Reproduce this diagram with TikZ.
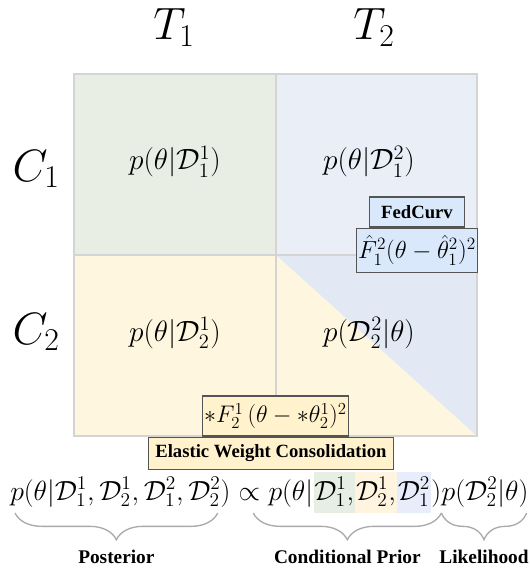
\RequirePackage{fix-cm}
\documentclass[tikz,border=0pt]{standalone}
\usepackage{amsmath,amssymb}
\usepackage{fontspec}
\newfontfamily\labelfont{Liberation Serif}
\usepackage{tikz}
\usetikzlibrary{positioning,calc,decorations.pathreplacing}
\usepackage{xcolor}
\definecolor{cellgreen}{RGB}{232,238,227}
\definecolor{cellblue}{RGB}{233,238,247}
\definecolor{triblue}{RGB}{227,233,244}
\definecolor{cellyellow}{RGB}{254,246,223}
\definecolor{gridgray}{RGB}{212,212,212}
\definecolor{fedblue}{RGB}{218,232,252}
\definecolor{ewcyellow}{RGB}{255,242,204}
\definecolor{boxgray}{RGB}{85,85,85}
\definecolor{bracegray}{RGB}{170,170,170}
\definecolor{hlgreen}{RGB}{231,239,228}
\definecolor{hlyellow}{RGB}{254,244,224}
\definecolor{hlblue}{RGB}{231,237,250}
\tikzset{
    bigmath/.style={inner sep=0, anchor=base, font=\fontsize{34}{40}\selectfont},
    cellmath/.style={inner sep=0, anchor=base, font=\fontsize{22}{26}\selectfont},
    eqmath/.style={inner sep=0, anchor=base west, font=\fontsize{20.8}{25}\selectfont},
    hl/.style={inner xsep=0.5pt, inner ysep=0, text height=21pt, text depth=9.75pt},
    gridline/.style={draw=gridgray, line width=1.1pt},
    labelbox/.style={draw=boxgray, line width=0.9pt, inner ysep=0, font=\labelfont\bfseries\fontsize{14}{16}\selectfont},
    termbox/.style={draw=boxgray, line width=0.9pt, inner xsep=1pt, inner ysep=0, font=\fontsize{18.5}{22}\selectfont},
    braceline/.style={draw=bracegray, line width=1pt, decorate, decoration={brace, mirror, amplitude=20pt}},
    bracelabel/.style={inner sep=0, font=\labelfont\bfseries\fontsize{14.5}{17}\selectfont},
}
\begin{document}
\begin{tikzpicture}[x=0.75pt, y=-0.75pt]
    \useasboundingbox (0,0) rectangle (530,570);
    % Cells
    \fill[cellgreen] (74,74) rectangle (276,255);
    \fill[cellblue] (276,74) rectangle (477,255);
    \fill[cellyellow] (74,255) rectangle (276,436);
    \fill[cellyellow] (276,255) -- (477,436) -- (276,436) -- cycle;
    \fill[triblue] (276,255) -- (477,255) -- (477,436) -- cycle;
    \draw[gridline] (74,74) rectangle (477,436);
    \draw[gridline] (276,74) -- (276,436);
    \draw[gridline] (74,255) -- (477,255);
    % Tasks and clients
    \node[bigmath] (t1) at (174,40) {$T_1$};
    \node[bigmath] (t2) at (374,40) {$T_2$};
    \node[bigmath] (c1) at (36,181) {$C_1$};
    \node[bigmath] (c2) at (36,344) {$C_2$};
    \node[cellmath] (p11) at (175,170) {$p(\theta|\mathcal{D}_1^1)$};
    \node[cellmath] (p12) at (369,170) {$p(\theta|\mathcal{D}_1^2)$};
    \node[cellmath] (p21) at (175,341) {$p(\theta|\mathcal{D}_2^1)$};
    \node[cellmath] (p22) at (369,341) {$p(\mathcal{D}_2^2|\theta)$};
    % FedCurv
    \node[labelbox, fill=fedblue, inner xsep=9pt, minimum height=22.5pt] (fedcurv) at (417,212) {FedCurv};
    \node[termbox, fill=fedblue, minimum height=33pt, below=0pt of fedcurv] (fedterm) {$\hat{F}_1^2(\theta-\hat{\theta}_1^2)^2$};
    % EWC
    \node[termbox, fill=ewcyellow, inner xsep=1.5pt, minimum height=30pt, font=\fontsize{18}{22}\selectfont] (ewcterm) at (275.5,416) {$*F_2^1\,(\theta-*\theta_2^1)^2$};
    \node[labelbox, fill=ewcyellow, inner xsep=5pt, minimum height=24pt, below=0pt of ewcterm, xshift=-3.4pt] (ewc) {Elastic Weight Consolidation};
    % Bayes rule
    \node[eqmath] (post) at (10,500) {$p(\theta|\mathcal{D}_1^1,\mathcal{D}_2^1,\mathcal{D}_1^2,\mathcal{D}_2^2)$};
    \node[eqmath] (prop) at (post.base east) {$\;\propto\;$};
    \node[eqmath] (prA) at (prop.base east) {$p(\theta|$};
    \node[eqmath, hl, fill=hlgreen] (hlA) at (prA.base east) {$\mathcal{D}_1^1,$};
    \node[eqmath, hl, fill=hlyellow] (hlB) at (hlA.base east) {$\mathcal{D}_2^1,$};
    \node[eqmath, hl, fill=hlblue] (hlC) at (hlB.base east) {$\mathcal{D}_1^2$};
    \node[eqmath] (prE) at (hlC.base east) {$)$};
    \node[eqmath] (like) at (prE.base east) {$p(\mathcal{D}_2^2|\theta)$};
    \coordinate (bry) at (0,513);
    \draw[braceline] ($(post.west |- bry)+(5,0)$) -- ($(post.east |- bry)+(-13,0)$)
        node[bracelabel, midway, below=27pt] (postlbl) {Posterior};
    \draw[braceline] ($(prA.west |- bry)+(-15,0)$) -- (prE.east |- bry)
        node[bracelabel, midway, below=27pt] (priorlbl) {Conditional Prior};
    \draw[braceline] (prE.east |- bry) -- ($(like.east |- bry)+(-2,0)$)
        node[bracelabel, midway, below=27pt] (likelbl) {Likelihood};
\end{tikzpicture}
\end{document}
